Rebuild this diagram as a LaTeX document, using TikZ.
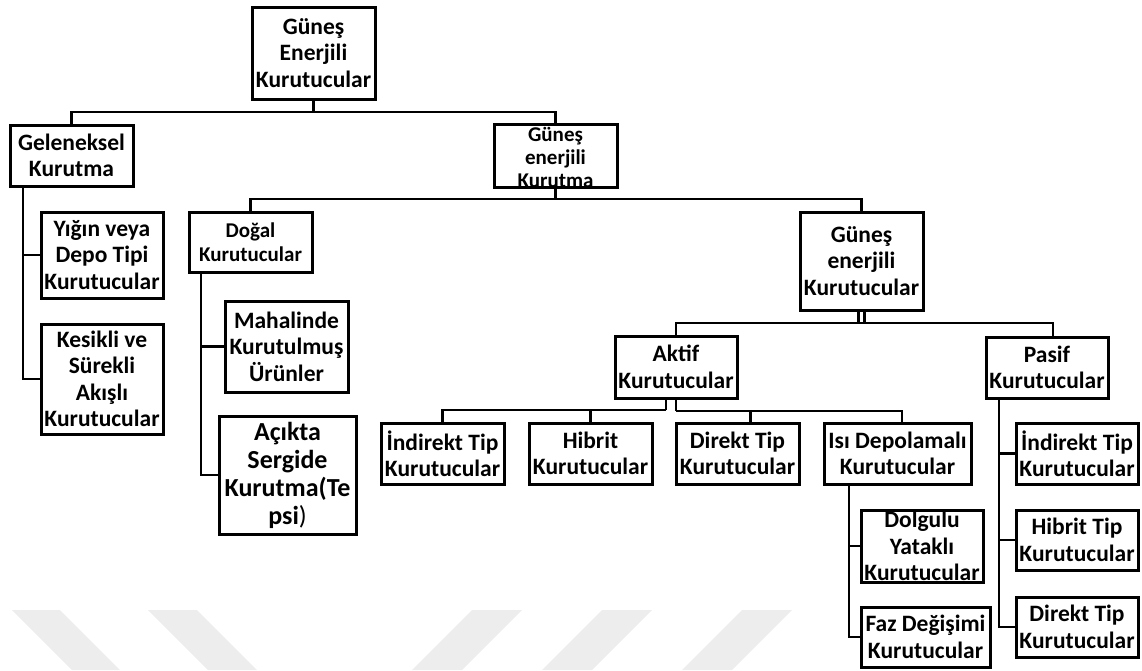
\documentclass[tikz,border=0pt]{standalone}
\usepackage{fontspec}
\setmainfont{Carlito}
\usetikzlibrary{calc}
\definecolor{wm}{RGB}{237,237,237}
\tikzset{
  x=1pt, y=-1pt,
  box/.style={draw=black, line width=3pt, fill=white, inner sep=0pt, outer sep=0pt},
  txt/.style={align=center, inner sep=0pt, font=\bfseries\fontsize{23.5}{26.5}\selectfont},
  small/.style={font=\bfseries\fontsize{21}{24}\selectfont},
  smaller/.style={font=\bfseries\fontsize{21}{23}\selectfont},
  big/.style={font=\bfseries\fontsize{26}{28}\selectfont},
  conn/.style={line width=2.6pt, line join=miter},
  wmark/.style={fill=wm, draw=none},
}
\newcommand\bx[7][]{%
  \node[box, minimum width=#5pt-#3pt, minimum height=#6pt-#4pt, anchor=north west] (#2) at (#3,#4) {};
  \node[txt,#1] (#2t) at (#2.center) {#7};}
\begin{document}
\begin{tikzpicture}
\useasboundingbox (0,0) rectangle (1142,670);
% watermark stripes
\fill[wmark] (12,610) -- (60,610) -- (120,670) -- (72,670) -- cycle;
\fill[wmark] (148,610) -- (197,610) -- (257,670) -- (208,670) -- cycle;
\fill[wmark] (472,610) -- (522,610) -- (462,670) -- (412,670) -- cycle;
\fill[wmark] (602,610) -- (652,610) -- (592,670) -- (542,670) -- cycle;
\fill[wmark] (742,610) -- (792,610) -- (732,670) -- (682,670) -- cycle;
% boxes
\bx{top}{252}{7}{375}{99}{Güneş\\Enerjili\\Kurutucular}
\bx{gel}{10}{125}{133}{186}{Geleneksel\\Kurutma}
\bx[smaller,yshift=-2pt]{kur}{494}{124}{617}{187}{Güneş\\enerjili\\Kurutma}
\bx{yig}{41}{212}{163}{298}{Yığın veya\\Depo Tipi\\Kurutucular}
\bx{kes}{41}{324}{163}{434}{Kesikli ve\\Sürekli\\Akışlı\\Kurutucular}
\bx[small]{dog}{189}{212}{312}{272}{Doğal\\Kurutucular}
\bx{mah}{225}{301}{348}{392}{Mahalinde\\Kurutulmuş\\Ürünler}
\bx[big]{aci}{219}{416}{356}{534}{Açıkta\\Sergide\\Kurutma(Te\\psi\textmd{)}}
\bx{gek}{800}{212}{923}{310}{Güneş\\enerjili\\Kurutucular}
\bx{akt}{615}{336}{737}{398}{Aktif\\Kurutucular}
\bx{pas}{986}{337}{1108}{398}{Pasif\\Kurutucular}
\bx{ind}{381}{423}{504}{484}{İndirekt Tip\\Kurutucular}
\bx{hib}{529}{423}{652}{484}{Hibrit\\Kurutucular}
\bx{dir}{676}{423}{799}{484}{Direkt Tip\\Kurutucular}
\bx{isi}{824}{423}{971}{484}{Isı Depolamalı\\Kurutucular}
\bx{dol}{861}{510}{983}{582}{Dolgulu\\Yataklı\\Kurutucular}
\bx{faz}{861}{607}{990}{667}{Faz Değişimi\\Kurutucular}
\bx{pind}{1016}{423}{1138}{484}{İndirekt Tip\\Kurutucular}
\bx{phib}{1016}{510}{1138}{570}{Hibrit Tip\\Kurutucular}
\bx{pdir}{1016}{597}{1138}{657}{Direkt Tip\\Kurutucular}
% connectors
\draw[conn] (top.south) -- ++(0,13) coordinate (j1);
\draw[conn] (gel.north) |- (j1) -| (kur.north);
\draw[conn] (kur.south) -- ++(0,12) coordinate (j2);
\draw[conn] (dog.north) |- (j2) -| (gek.north);
% left column
\draw[conn] ([xshift=13pt]gel.south west) coordinate (g0) |- (kes.west);
\draw[conn] (g0 |- yig.west) -- (yig.west);
\draw[conn] ([xshift=12pt]dog.south west) coordinate (d0) |- (aci.west);
\draw[conn] (d0 |- mah.west) -- (mah.west);
% right part
\draw[conn] ([xshift=-2.8pt]gek.south) -- ++(0,13);
\draw[conn] ([xshift=2.8pt]gek.south) -- ++(0,13) coordinate (j3);
\draw[conn] (akt.north) |- (j3) -| ([xshift=6pt]pas.north);
\draw[conn] ([xshift=-10pt]akt.south) -- ++(0,12) coordinate (j4);
\draw[conn] (j4) -| (ind.north);
\draw[conn] (hib.north |- j4) -- (hib.north);
\draw[conn] (akt.south) -- ++(0,13) coordinate (j5);
\draw[conn] (j5) -| ([xshift=4.5pt]isi.north);
\draw[conn] ([xshift=13pt]dir.north |- j5) -- ([xshift=13pt]dir.north);
\draw[conn] ([xshift=25pt]isi.south west) coordinate (i0) |- (faz.west);
\draw[conn] (i0 |- dol.west) -- (dol.west);
\draw[conn] ([xshift=13pt]pas.south west) coordinate (p0) |- (pdir.west);
\draw[conn] (p0 |- pind.west) -- (pind.west);
\draw[conn] (p0 |- phib.west) -- (phib.west);
\end{tikzpicture}
\end{document}
